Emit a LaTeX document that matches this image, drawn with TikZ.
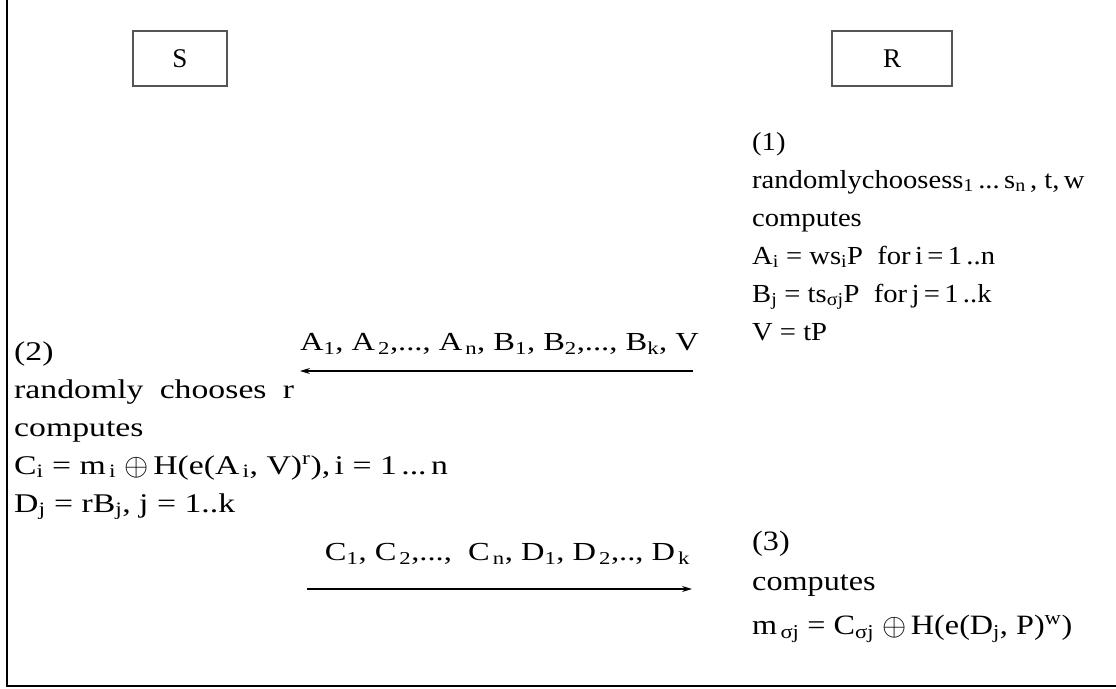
\documentclass[tikz,border=0pt]{standalone}
\usepackage{fontspec}
\setmainfont{Liberation Serif}
\newfontfamily\rfont[FakeStretch=1.1]{Liberation Serif}
\newfontfamily\sfont[FakeStretch=1.25]{Liberation Serif}
\newfontfamily\tfont[FakeStretch=1.15]{Liberation Serif}
\usepackage{tikz}
\usetikzlibrary{arrows.meta,positioning}
\definecolor{boxgray}{RGB}{85,85,85}
\newcommand{\sz}[1]{\fontsize{#1}{30}\selectfont}
\newcommand{\xor}{\raisebox{-0.1ex}{\scalebox{1.25}{$\oplus$}}}
\tikzset{
  txt/.style={anchor=base west, inner sep=0pt, font=\rfont\sz{26}},
  stxt/.style={txt, font=\sfont\sz{27}},
  ttxt/.style={txt, font=\tfont\sz{28}},
  party/.style={rectangle, draw=boxgray, line width=1.4pt, minimum width=94pt, minimum height=55pt, font=\sz{27}},
  msg/.style={-{Stealth[length=10pt,width=6pt]}, line width=1.1pt},
  msglabel/.style={inner sep=0pt, font=\sfont\sz{26}},
  frame/.style={line width=2pt},
}
\begin{document}
\begin{tikzpicture}[x=1pt,y=-1pt]
  \useasboundingbox (0,0) rectangle (1116,688);
  % frame
  \draw[frame] (6.5,0) -- (6.5,686) -- (1116,686);

  % parties
  \node[party] (S) at (180,58.5) {S};
  \node[party, minimum width=120pt] (R) at (892,58.5) {R};

  % step (1) at R
  \node[txt] (r1) at (752,150) {(1)};
  \node[txt] (r2) at (752,188) {randomlychoosess\textsubscript{1}\,...\,s\textsubscript{n}\,, t,\,w};
  \node[txt] (r3) at (752,226) {computes};
  \node[txt] (r4) at (752,264) {A\textsubscript{i} = ws\textsubscript{i}P\ \ for\,i\,=\,1\,..n};
  \node[txt] (r5) at (752,302) {B\textsubscript{j} = ts\textsubscript{σj}P\ \ for\,j\,=\,1\,..k};
  \node[txt] (r6) at (752,340) {V = tP};

  % step (2) at S
  \node[stxt] (s1) at (14,360) {(2)};
  \node[stxt] (s2) at (14,398) {randomly\hspace{0.6em}chooses\hspace{0.6em}r};
  \node[stxt] (s3) at (14,436) {computes};
  \node[stxt] (s4) at (14,474) {C\textsubscript{i} = m\textsubscript{\,i} \xor\,H(e(A\textsubscript{\,i}, V)\textsuperscript{r}),\,i = 1\,...\,n};
  \node[stxt] (s5) at (14,512) {D\textsubscript{j} = rB\textsubscript{j}, j = 1..k};

  % step (3) at R
  \node[ttxt] (t1) at (752,550) {(3)};
  \node[ttxt] (t2) at (752,590) {computes};
  \node[ttxt] (t3) at (752,634) {m\textsubscript{\,σj} = C\textsubscript{σj} \xor\,H(e(D\textsubscript{j}, P)\textsuperscript{w})};

  % messages
  \coordinate (m1r) at (693,371);
  \coordinate (m1s) at (300,371);
  \coordinate (m2s) at (307,589);
  \coordinate (m2r) at (692,589);
  \draw[msg] (m1r) -- node[msglabel, above=16pt, xshift=3pt] (m1) {A\textsubscript{1}, A\textsubscript{\,2},..., A\textsubscript{\,n}, B\textsubscript{1}, B\textsubscript{2},..., B\textsubscript{k}, V} (m1s);
  \draw[msg] (m2s) -- node[msglabel, above=24pt, xshift=8pt] (m2) {C\textsubscript{1}, C\textsubscript{\,2},..., \ C\textsubscript{\,n}, D\textsubscript{1}, D\textsubscript{\,2},.., D\textsubscript{\,k}} (m2r);
\end{tikzpicture}
\end{document}
